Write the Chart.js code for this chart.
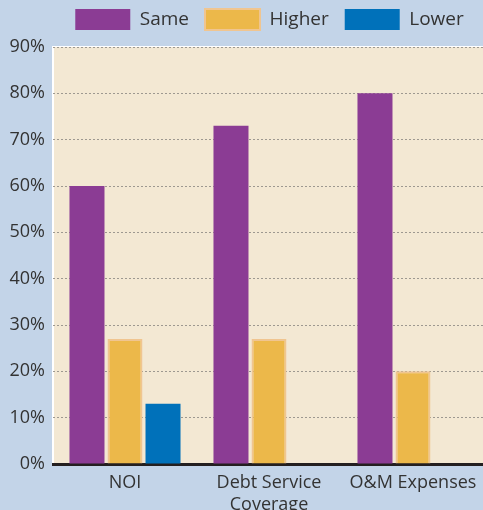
<!DOCTYPE html>
<html>
<head>
<meta charset="utf-8">
<script src="https://cdn.jsdelivr.net/npm/chart.js@4/dist/chart.umd.min.js"></script>
<style>
  html, body { margin: 0; padding: 0; background: #c3d4e8; overflow: hidden; }
  #wrap { width: 490px; height: 510px; }
</style>
</head>
<body>
<div id="wrap"><canvas id="c" width="490" height="510"></canvas></div>
<script>
const categories = ['NOI', ['Debt Service', 'Coverage'], 'O&M Expenses'];
const seriesNames = ['Same', 'Higher', 'Lower'];
const sameValues = [60, 73, 80];
const higherValues = [27, 27, 20];
const lowerValues = [13, 0, 0];
const yTicks = [0, 10, 20, 30, 40, 50, 60, 70, 80, 90];

const FONT = '"Open Sans", "DejaVu Sans", sans-serif';
const TEXT = '#333333';
const LEGEND_PAD = 16;

const plotBg = {
  id: 'plotBg',
  beforeDraw(chart) {
    const {ctx, chartArea: a} = chart;
    ctx.save();
    ctx.fillStyle = '#f3e8d3';
    ctx.fillRect(a.left, a.top, a.right - a.left, a.bottom - a.top);
    ctx.fillStyle = '#ffffff';
    ctx.fillRect(a.left - 1, a.top - 1, a.right - a.left + 1, 1);
    ctx.fillRect(a.left - 1, a.top - 1, 2, a.bottom - a.top + 1);
    ctx.restore();
  }
};

const legendTweak = {
  id: 'legendTweak',
  beforeLayout(chart) {
    const lg = chart.legend;
    if (!lg || lg._patched) return;
    const orig = lg.fit;
    lg.fit = function () { orig.call(this); this.height = 47; };
    lg._patched = true;
  },
  afterLayout(chart) {
    const lg = chart.legend;
    if (!lg) return;
    const d = 269.5 - (lg.left + lg.right) / 2;
    lg.left += d;
    lg.right += d;
    const dy = (9 - LEGEND_PAD) - lg.top;
    lg.top += dy;
    lg.bottom += dy;
  }
};

new Chart(document.getElementById('c'), {
  type: 'bar',
  data: {
    labels: categories,
    datasets: [
      { label: seriesNames[0], data: sameValues, backgroundColor: '#8b3c94', borderWidth: 0 },
      { label: seriesNames[1], data: higherValues, backgroundColor: '#ecb84a', borderColor: '#f0c590', borderWidth: 2 },
      { label: seriesNames[2], data: lowerValues, backgroundColor: '#0071ba', borderWidth: 0 }
    ]
  },
  plugins: [plotBg, legendTweak],
  options: {
    responsive: false,
    animation: false,
    devicePixelRatio: 1,
    layout: { padding: { top: 0, left: 0, right: 5, bottom: 0 } },
    datasets: { bar: { categoryPercentage: 0.792, barPercentage: 0.921 } },
    plugins: {
      legend: {
        position: 'top',
        labels: {
          boxWidth: 55,
          boxHeight: 21,
          padding: LEGEND_PAD,
          color: TEXT,
          font: { family: FONT, size: 19 }
        }
      },
      tooltip: { enabled: false }
    },
    scales: {
      x: {
        grid: { display: false },
        border: { color: '#231f20', width: 3 },
        ticks: { color: TEXT, font: { family: FONT, size: 18, lineHeight: 1.2 }, padding: 0, maxRotation: 0 },
        afterFit(s) { s.height = 46; }
      },
      y: {
        min: 0,
        max: 90,
        afterBuildTicks(s) { s.ticks = yTicks.map(v => ({ value: v })); },
        grid: {
          color: (c) => c.tick && c.tick.value === 0 ? 'rgba(0,0,0,0)' : '#9d9890',
          lineWidth: 1,
          drawTicks: false
        },
        border: { display: false, dash: [2, 2] },
        ticks: {
          color: TEXT,
          font: { family: FONT, size: 18 },
          padding: 8,
          callback: (v) => v + '%'
        },
        afterFit(s) { s.width = 53; }
      }
    }
  }
});
</script>
</body>
</html>
